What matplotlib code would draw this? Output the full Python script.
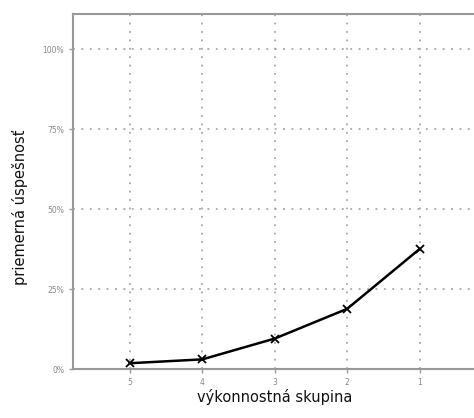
import matplotlib.pyplot as plt
from matplotlib.ticker import FuncFormatter

# data
groups = [5, 4, 3, 2, 1]
success = [1.9, 3.1, 9.6, 18.9, 37.6]
y_ticks = [0, 25, 50, 75, 100]

fig = plt.figure(figsize=(4.74, 4.18), dpi=100)
ax = fig.add_axes([0.1546, 0.1165, 0.85, 0.85])

ax.plot(groups, success, color='black', linewidth=1.8, marker='x',
        markersize=6, markeredgewidth=1.3)

ax.set_xlim(5.78, 0.22)
ax.set_ylim(0, 111)
ax.set_xticks(groups)
ax.set_yticks(y_ticks)
ax.yaxis.set_major_formatter(FuncFormatter(lambda v, p: '%d%%' % v))

ax.grid(True, linestyle=(0, (1.2, 4.3)), color='#999999', linewidth=1.1)
for s in ax.spines.values():
    s.set_color('#999999')
    s.set_linewidth(1.5)
ax.tick_params(colors='#999999', labelcolor='#888888', labelsize=5.5,
               length=3, width=1, direction='out')

ax.set_ylabel('priemerná úspešnosť', fontsize=10.5, color='#111111')
ax.yaxis.set_label_coords(-0.112, 0.457)
ax.set_xlabel('výkonnostná skupina', fontsize=10.5, color='#111111', labelpad=1)

fig.savefig('out.png', dpi=100)
